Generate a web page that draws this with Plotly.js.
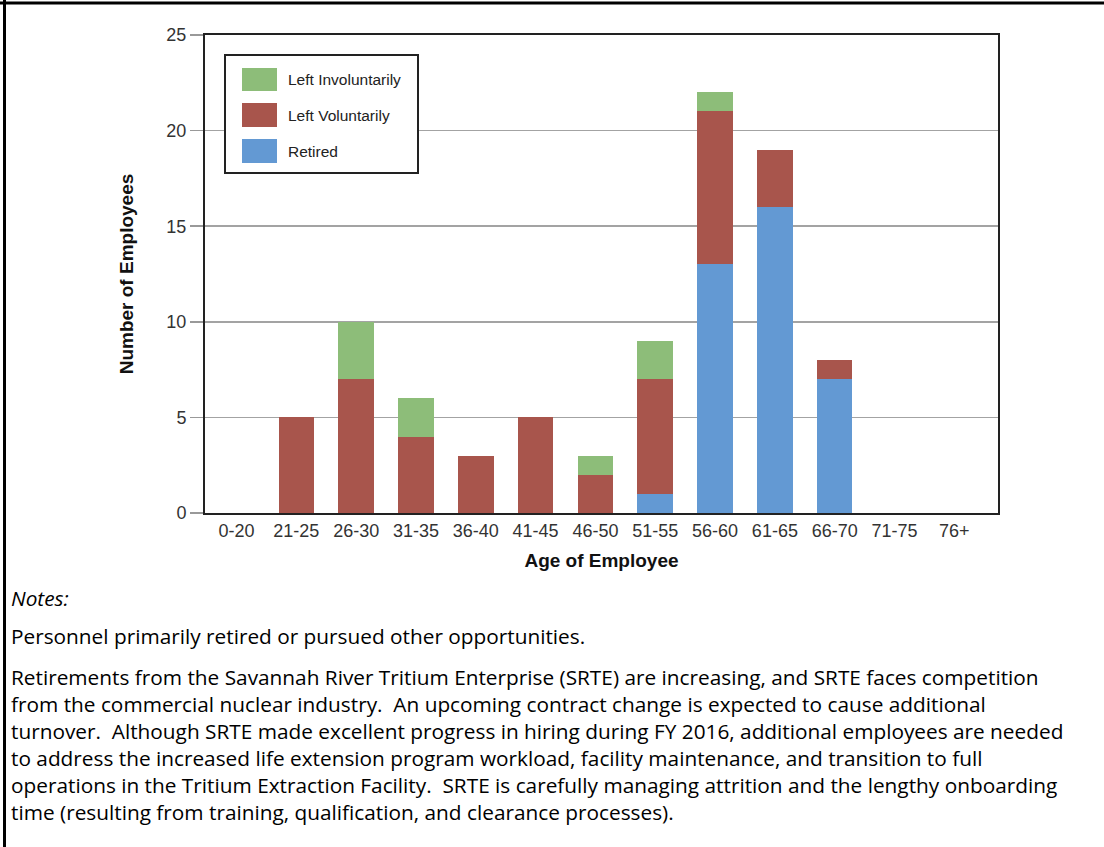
<!DOCTYPE html>
<html>
<head>
<meta charset="utf-8">
<script src="https://cdn.plot.ly/plotly-3.0.1.min.js"></script>
<style>html,body{margin:0;padding:0;background:#fff;}#chart{width:1104px;height:847px;}</style>
</head>
<body>
<div id="chart"></div>
<script>
// ---- data ----
var ageGroups = ["0-20","21-25","26-30","31-35","36-40","41-45","46-50","51-55","56-60","61-65","66-70","71-75","76+"];
var retired            = [0,0,0,0,0,0,0,1,13,16,7,0,0];
var leftVoluntarily    = [0,5,7,4,3,5,2,6,8,3,1,0,0];
var leftInvoluntarily  = [0,0,3,2,0,0,1,2,1,0,0,0,0];
var seriesNames = ["Retired","Left Voluntarily","Left Involuntarily"];
var yTicks = [0,5,10,15,20,25];
var xTitle = "Age of Employee";
var yTitle = "Number of Employees";
var notesHeading = "Notes:";
var notesLine1 = "Personnel primarily retired or pursued other opportunities.";
var notesParagraph = [
  "Retirements from the Savannah River Tritium Enterprise (SRTE) are increasing, and SRTE faces competition",
  "from the commercial nuclear industry.  An upcoming contract change is expected to cause additional",
  "turnover.  Although SRTE made excellent progress in hiring during FY 2016, additional employees are needed",
  "to address the increased life extension program workload, facility maintenance, and transition to full",
  "operations in the Tritium Extraction Facility.  SRTE is carefully managing attrition and the lengthy onboarding",
  "time (resulting from training, qualification, and clearance processes)."
];

// ---- styling / geometry ----
var colors = {"Retired":"#6399d3","Left Voluntarily":"#a8554c","Left Involuntarily":"#8dbd79"};
var W = 1104, H = 847;
var L = 205, R = 998, T = 35, B = 513;
function px(x){ return (x - L) / (R - L); }
function py(y){ return (B - y) / (B - T); }
var arial = "Liberation Sans, Arial, sans-serif";

var values = {"Retired":retired,"Left Voluntarily":leftVoluntarily,"Left Involuntarily":leftInvoluntarily};
var traces = seriesNames.map(function(n){
  return {type:"bar", name:n, x:ageGroups, y:values[n], marker:{color:colors[n], line:{width:0}}, showlegend:false};
});

var shapes = [];
var annotations = [];

// page border (top and left)
shapes.push({type:"line", xref:"paper", yref:"paper", x0:px(0), x1:px(W), y0:py(3), y1:py(3), line:{color:"#000", width:3}});
shapes.push({type:"line", xref:"paper", yref:"paper", x0:px(4.5), x1:px(4.5), y0:py(0), y1:py(H), line:{color:"#000", width:3}});

// custom legend
shapes.push({type:"rect", xref:"paper", yref:"paper", layer:"above", x0:px(225), x1:px(418), y0:py(55), y1:py(173), fillcolor:"#fff", line:{color:"#222", width:2}});
var legendOrder = ["Left Involuntarily","Left Voluntarily","Retired"];
var legendRows = [[68,91],[103,127],[139,163]];
legendOrder.forEach(function(n,i){
  var r = legendRows[i];
  shapes.push({type:"rect", xref:"paper", yref:"paper", layer:"above", x0:px(242), x1:px(277), y0:py(r[0]), y1:py(r[1]), fillcolor:colors[n], line:{width:0}});
  annotations.push({xref:"paper", yref:"paper", x:px(286), y:py((r[0]+r[1])/2), xanchor:"left", yanchor:"middle", showarrow:false, text:n, font:{family:arial, size:15.5, color:"#222"}});
});

// notes
var notesFont = {family:"Open Sans, Lato, sans-serif", size:20.8, color:"#000"};
annotations.push({xref:"paper", yref:"paper", x:px(9), y:py(598), xanchor:"left", yanchor:"middle", showarrow:false, text:"<i>"+notesHeading+"</i>", font:notesFont});
annotations.push({xref:"paper", yref:"paper", x:px(9), y:py(636), xanchor:"left", yanchor:"middle", showarrow:false, text:notesLine1, font:notesFont});
annotations.push({xref:"paper", yref:"paper", x:px(9), y:py(744), xanchor:"left", yanchor:"middle", align:"left", showarrow:false, text:notesParagraph.join("<br>"), font:notesFont});

var layout = {
  width:W, height:H,
  margin:{l:L, r:W-R, t:T, b:H-B, pad:0},
  paper_bgcolor:"#fff", plot_bgcolor:"#fff",
  barmode:"stack", bargap:0.405,
  showlegend:false,
  font:{family:arial, color:"#333"},
  xaxis:{
    type:"category", range:[-0.527, 12.73], fixedrange:true,
    showline:true, mirror:true, linecolor:"#222", linewidth:2,
    ticks:"", showgrid:false, tickfont:{family:arial, size:18, color:"#333"},
    title:{text:xTitle, font:{size:19, color:"#111", family:arial, weight:"bold"}, standoff:14}
  },
  yaxis:{
    range:[0,25], tickvals:yTicks, fixedrange:true,
    showline:true, mirror:true, linecolor:"#222", linewidth:2,
    ticks:"outside", ticklen:13, tickwidth:1.5, tickcolor:"#999",
    showgrid:true, gridcolor:"#a3a3a3", gridwidth:1.6, zeroline:false,
    tickfont:{family:arial, size:18, color:"#333"},
    title:{text:yTitle, font:{size:19, color:"#111", family:arial, weight:"bold"}, standoff:28}
  },
  shapes:shapes,
  annotations:annotations
};

Plotly.newPlot("chart", traces, layout, {staticPlot:true, displayModeBar:false});
</script>
</body>
</html>
